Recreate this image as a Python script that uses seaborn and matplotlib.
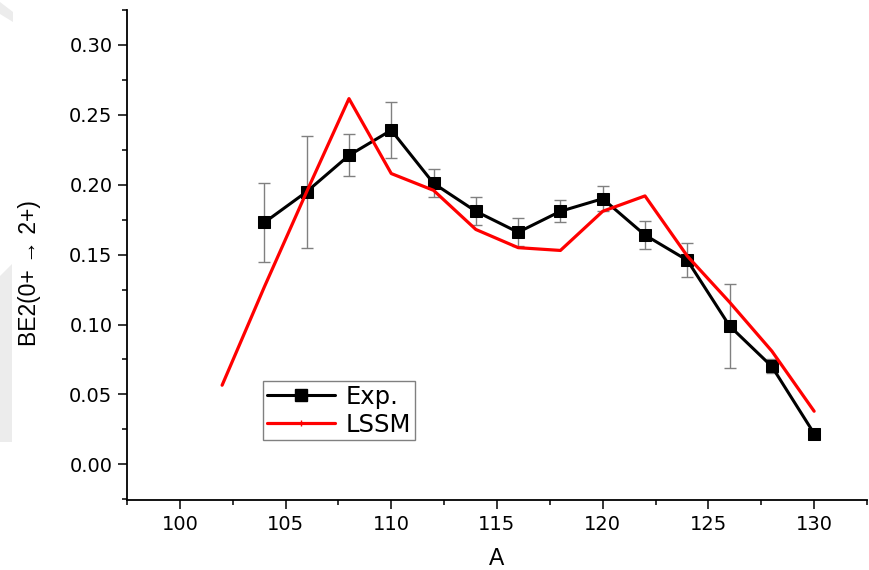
import matplotlib
matplotlib.use("Agg")
import matplotlib.pyplot as plt
from matplotlib.lines import Line2D
from matplotlib.patches import Polygon
from matplotlib.ticker import MultipleLocator, FormatStrFormatter
import seaborn as sns

# Experimental B(E2; 0+ -> 2+) values with uncertainties
A_exp = [104, 106, 108, 110, 112, 114, 116, 118, 120, 122, 124, 126, 128, 130]
be2_exp = [0.173, 0.195, 0.221, 0.239, 0.201, 0.181, 0.166, 0.181, 0.190,
           0.164, 0.146, 0.099, 0.070, 0.022]
be2_err = [0.028, 0.040, 0.015, 0.020, 0.010, 0.010, 0.010, 0.008, 0.009,
           0.010, 0.012, 0.030, 0.005, 0.003]

# Large-scale shell-model (LSSM) results
A_lssm = [102, 104, 106, 108, 110, 112, 114, 116, 118, 120, 122, 124, 126, 128, 130]
be2_lssm = [0.0566, 0.127, 0.195, 0.2616, 0.208, 0.196, 0.168, 0.155, 0.153,
            0.181, 0.192, 0.149, 0.116, 0.081, 0.038]

x_ticks = [100, 105, 110, 115, 120, 125, 130]
y_ticks = [0.00, 0.05, 0.10, 0.15, 0.20, 0.25, 0.30]

sns.set_style("ticks")
plt.rcParams["font.family"] = ["DejaVu Sans"]
plt.rcParams["text.color"] = "black"
plt.rcParams["axes.labelcolor"] = "black"
plt.rcParams["xtick.color"] = "black"
plt.rcParams["ytick.color"] = "black"

fig = plt.figure(figsize=(8.69, 5.70), dpi=100)
ax = fig.add_axes([0.1461, 0.1228, 0.8516, 0.8597])

ax.errorbar(A_exp, be2_exp, yerr=be2_err, fmt="none", ecolor="#808080",
            elinewidth=1.0, capsize=4.5, capthick=1.0, zorder=2)
sns.lineplot(x=A_exp, y=be2_exp, ax=ax, color="black", linewidth=2.2,
             marker="s", markersize=8, markeredgecolor="black",
             markerfacecolor="black", errorbar=None, legend=False, zorder=3)
sns.lineplot(x=A_lssm, y=be2_lssm, ax=ax, color="#ff0000", linewidth=2.3,
             errorbar=None, legend=False, zorder=4)

ax.set_xlim(97.5, 132.5)
ax.set_ylim(-0.0255, 0.325)
ax.set_xticks(x_ticks)
ax.set_yticks(y_ticks)
ax.xaxis.set_minor_locator(MultipleLocator(2.5))
ax.yaxis.set_minor_locator(MultipleLocator(0.025))
ax.yaxis.set_major_formatter(FormatStrFormatter("%.2f"))
ax.tick_params(which="major", direction="out", length=6.5, width=1.1,
               labelsize=14, pad=4, colors="black", labelcolor="black")
ax.tick_params(which="minor", direction="out", length=3.5, width=1.1,
               colors="black")

for side in ("top", "right"):
    ax.spines[side].set_visible(False)
for side in ("left", "bottom"):
    ax.spines[side].set_linewidth(1.3)
    ax.spines[side].set_color("black")

label_font = dict(family=["Liberation Sans", "DejaVu Sans"], fontsize=16.5,
                  color="black")
ax.set_xlabel("A", **label_font)
ax.set_ylabel("BE2(0+ \u2192 2+)", **label_font)
ax.xaxis.set_label_coords(0.5, -0.095)
ax.yaxis.set_label_coords(-0.116, 0.463)

handles = [
    Line2D([], [], color="black", linewidth=2.2, marker="s", markersize=8),
    Line2D([], [], color="#ff0000", linewidth=2.3, marker="|", markersize=4,
           markeredgewidth=1.0),
]
leg = ax.legend(handles, ["Exp.", "LSSM"], loc="lower left",
                bbox_to_anchor=(0.184, 0.122), borderaxespad=0,
                prop=dict(family=["DejaVu Sans"], size=17.5),
                frameon=True, fancybox=False, framealpha=1,
                edgecolor="#808080", handlelength=2.8, handletextpad=0.45,
                labelspacing=0.15, borderpad=0.15)
leg.get_frame().set_linewidth(1.0)
for t in leg.get_texts():
    t.set_color("black")

# faint page marks along the left edge
W, H = 869.0, 570.0
def px(x, y):
    return (x / W, 1 - y / H)

fig.patches.append(Polygon([px(0, 2), px(13, 12), px(13, 22), px(0, 14)],
                           closed=True, transform=fig.transFigure,
                           facecolor="#ececec", edgecolor="none", zorder=0))
fig.patches.append(Polygon([px(0, 276), px(12, 264), px(12, 442), px(0, 442)],
                           closed=True, transform=fig.transFigure,
                           facecolor="#ececec", edgecolor="none", zorder=0))

fig.savefig("out.png", dpi=100)
